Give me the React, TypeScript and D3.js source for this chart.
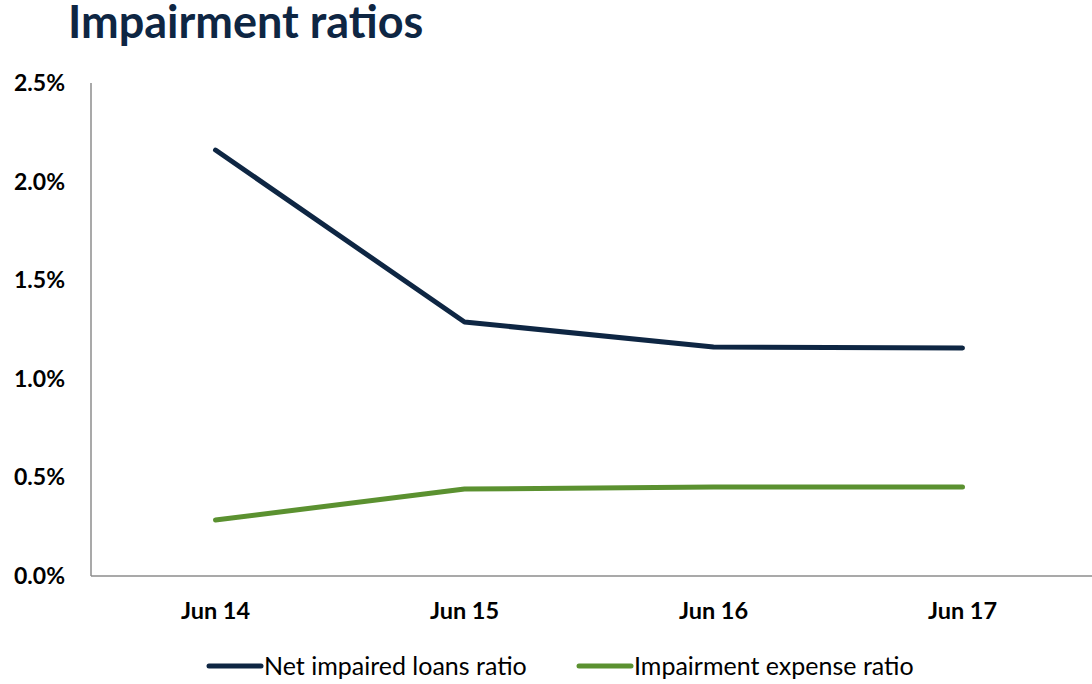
import React from "react";
import * as d3 from "d3";

const categories = ["Jun 14", "Jun 15", "Jun 16", "Jun 17"];
const netImpaired = [2.16, 1.288, 1.161, 1.156];
const impairmentExpense = [0.284, 0.441, 0.451, 0.451];
const yTicks = [0, 0.5, 1.0, 1.5, 2.0, 2.5];
const seriesNames = ["Net impaired loans ratio", "Impairment expense ratio"];
const seriesColors = ["#0e2643", "#5b9130"];

const W = 1092;
const H = 684;
const left = 91;
const right = 1087;
const top = 83;
const bottom = 576;
const font = "Lato, 'Open Sans', sans-serif";

export default function App() {
  const x = d3.scalePoint<string>().domain(categories).range([left, right]).padding(0.5);
  const y = d3.scaleLinear().domain([0, 2.5]).range([bottom, top]);
  const line = d3
    .line<number>()
    .x((_, i) => x(categories[i]) as number)
    .y((d) => y(d));
  const series = [netImpaired, impairmentExpense];
  const legendX = [207, 577];

  return (
    <svg width={W} height={H} style={{ position: "absolute", left: 0, top: 0 }}>
      <rect width={W} height={H} fill="#fff" />
      <text x={68} y={38} fontFamily={font} fontWeight={700} fontSize={45} fill="#0e2643">
        Impairment ratios
      </text>
      <line x1={left} x2={left} y1={top} y2={bottom} stroke="#8c8c8c" strokeWidth={1.5} />
      <line x1={left} x2={W} y1={bottom} y2={bottom} stroke="#8c8c8c" strokeWidth={1.5} />
      {yTicks.map((t) => (
        <text
          key={t}
          x={65}
          y={y(t)}
          dy="0.35em"
          textAnchor="end"
          fontFamily={font}
          fontWeight={700}
          fontSize={23}
          fill="#000"
        >
          {t.toFixed(1)}%
        </text>
      ))}
      {categories.map((c) => (
        <text
          key={c}
          x={x(c)}
          y={611}
          dy="0.35em"
          textAnchor="middle"
          fontFamily={font}
          fontWeight={700}
          fontSize={23.5}
          fill="#000"
        >
          {c}
        </text>
      ))}
      {series.map((s, i) => (
        <path
          key={i}
          d={line(s) || ""}
          fill="none"
          stroke={seriesColors[i]}
          strokeWidth={5}
          strokeLinecap="round"
          strokeLinejoin="round"
        />
      ))}
      {seriesNames.map((n, i) => (
        <g key={n} transform={`translate(${legendX[i]},666)`}>
          <line x1={2} x2={54} y1={0} y2={0} stroke={seriesColors[i]} strokeWidth={5} strokeLinecap="round" />
          <text x={57} y={0} dy="0.35em" fontFamily={font} fontSize={25} fill="#000">
            {n}
          </text>
        </g>
      ))}
    </svg>
  );
}
